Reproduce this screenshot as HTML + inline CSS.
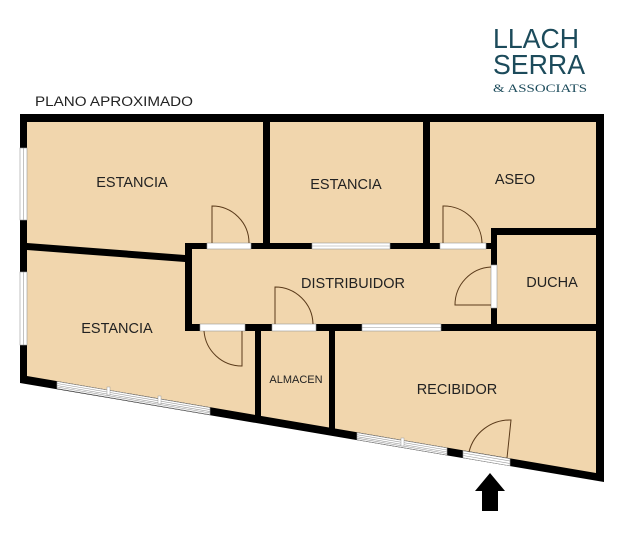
<!DOCTYPE html>
<html><head><meta charset="utf-8"><style>
html,body{margin:0;padding:0;background:#fff;width:628px;height:536px;overflow:hidden}
svg{display:block}
text{font-family:"Liberation Sans",sans-serif;fill:#222}
</style></head><body>
<svg width="628" height="536" viewBox="0 0 628 536" xmlns="http://www.w3.org/2000/svg">
<text x="493" y="48" font-size="28" textLength="86" lengthAdjust="spacingAndGlyphs" style="fill:#1c4b5b">LLACH</text>
<text x="493" y="74" font-size="28" textLength="92" lengthAdjust="spacingAndGlyphs" style="fill:#1c4b5b">SERRA</text>
<text x="493" y="92" font-size="12" textLength="94" lengthAdjust="spacingAndGlyphs" style="fill:#1c4b5b;font-family:'Liberation Serif',serif">&amp; ASSOCIATS</text>
<text x="35" y="106" font-size="13.5" textLength="158" lengthAdjust="spacingAndGlyphs">PLANO APROXIMADO</text>

<polygon points="20,114 604,114 604,482 20,383" fill="#000"/>
<polygon points="27,122 596,122 596,473 27,376" fill="#f1d6ad"/>

<g fill="#000">
<rect x="263" y="122" width="7" height="127"/>
<rect x="423" y="122" width="7" height="127"/>
<rect x="185" y="243" width="312" height="6"/>
<rect x="491" y="228" width="105" height="7"/>
<rect x="491" y="228" width="6" height="103"/>
<rect x="185" y="324" width="411" height="7"/>
<rect x="185" y="243" width="7" height="88"/>
<polygon points="27,243 185,255 185,262 27,250"/>
<polygon points="255,324 261,324 261,419 255,418"/>
<polygon points="329,324 335,324 335,432 329,431"/>
</g>

<g fill="#fff" stroke="#999" stroke-width="0.6">
<rect x="20" y="148" width="7" height="72"/>
<rect x="20" y="272" width="7" height="73"/>
<rect x="312" y="243" width="78" height="6"/>
<rect x="362" y="324" width="79" height="7"/>
<rect x="207" y="243" width="44" height="6"/>
<rect x="440" y="243" width="46" height="6"/>
<rect x="200" y="324" width="45" height="7"/>
<rect x="272" y="324" width="44" height="7"/>
<rect x="491" y="265" width="6" height="43"/>
<polygon points="57,381.5 210,407.6 210,414.6 57,388.5"/>
<polygon points="357,432.7 447,448 447,455 357,439.7"/>
<polygon points="463,450.8 510,458.8 510,465.8 463,457.8"/>
</g>
<g stroke="#999" stroke-width="0.6">
<line x1="23.5" y1="148" x2="23.5" y2="220"/><line x1="23.5" y1="272" x2="23.5" y2="345"/>
<line x1="312" y1="246" x2="390" y2="246"/><line x1="362" y1="327.5" x2="441" y2="327.5"/>
<line x1="57" y1="383.5" x2="210" y2="409.6"/><line x1="57" y1="385.5" x2="210" y2="411.6"/><line x1="57" y1="387" x2="210" y2="413"/>
<line x1="357" y1="434.7" x2="447" y2="450"/><line x1="357" y1="436.7" x2="447" y2="452"/><line x1="357" y1="438.2" x2="447" y2="453.5"/>
<line x1="463" y1="453" x2="510" y2="461"/><line x1="463" y1="455.5" x2="510" y2="463.5"/>
</g>
<g fill="#fff" stroke="#999" stroke-width="0.5">
<rect x="107" y="387" width="3" height="8"/><rect x="158" y="396" width="3" height="8"/>
<rect x="401" y="438" width="3" height="8"/>
</g>

<g fill="none" stroke="#5a3a1a" stroke-width="1">
<path d="M212,243 V206 A37,37 0 0 1 249,243"/>
<path d="M443,243 V206 A38,38 0 0 1 482,243"/>
<path d="M491,305 H455 A38,38 0 0 1 491,267"/>
<path d="M242,331 V366 A38,38 0 0 1 204,331"/>
<path d="M275,324 V287 A38,38 0 0 1 313,324"/>
<path d="M507,458 L511,420 A42,42 0 0 0 469,452"/>
</g>

<polygon points="490,473 505,491 498,491 498,511 482,511 482,491 475,491" fill="#000"/>

<g font-size="14.5" text-anchor="middle">
<text x="132" y="187">ESTANCIA</text>
<text x="346" y="189">ESTANCIA</text>
<text x="515" y="184">ASEO</text>
<text x="353" y="288">DISTRIBUIDOR</text>
<text x="552" y="287">DUCHA</text>
<text x="117" y="333">ESTANCIA</text>
<text x="457" y="394">RECIBIDOR</text>
<text x="296" y="383" font-size="11">ALMACEN</text>
</g>
</svg>
</body></html>
